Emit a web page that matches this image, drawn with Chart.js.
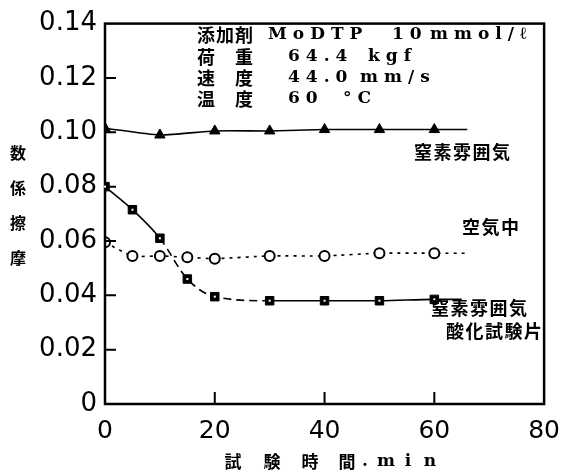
<!DOCTYPE html>
<html>
<head>
<meta charset="utf-8">
<script src="https://cdn.jsdelivr.net/npm/chart.js@4/dist/chart.umd.min.js"></script>
<style>
  html, body { margin: 0; padding: 0; background: #fff; }
  #wrap { width: 572px; height: 473px; }
</style>
</head>
<body>
<div id="wrap"><canvas id="chart" width="572" height="473"></canvas></div>
<script>
// test time (min) and friction coefficient
// last entry of each series is only where the drawn line stops
const timeN2 = [0, 10, 20, 30, 40, 50, 60, 66];
const muN2   = [0.1015, 0.099, 0.1005, 0.1005, 0.101, 0.101, 0.101, 0.101];

const timeAir = [0, 5, 10, 15, 20, 30, 40, 50, 60, 66];
const muAir   = [0.0595, 0.0545, 0.0545, 0.054, 0.0535, 0.0545, 0.0545, 0.0555, 0.0555, 0.0555];

const timeOx = [0, 5, 10, 15, 20, 30, 40, 50, 60, 65];
const muOx   = [0.080, 0.0715, 0.061, 0.046, 0.0395, 0.038, 0.038, 0.038, 0.0385, 0.0385];

const xTicks = [0, 20, 40, 60, 80];
const yTicks = [0, 0.02, 0.04, 0.06, 0.08, 0.10, 0.12, 0.14];

const condLines = [
  ['添加剤', 'MoDTP', '10', 'mmol/ℓ'],
  ['荷　重', '64.4', 'kgf'],
  ['速　度', '44.0', 'mm/s'],
  ['温　度', '60', '°C']
];

const CJK = '"Noto Sans CJK JP", sans-serif';
const LAT = '"DejaVu Serif", "Liberation Serif", serif';

const pts = (xs, ys) => xs.map((x, i) => ({ x, y: ys[i] }));
const lastHidden = (r) => (ctx) => ctx.dataIndex === ctx.dataset.data.length - 1 ? 0 : r;

// frame, inward ticks and all the text annotations
const decor = {
  id: 'decor',
  afterDatasetsDraw(chart) {
    const { ctx, chartArea: a, scales: { x, y } } = chart;
    ctx.save();
    ctx.strokeStyle = '#000';
    ctx.lineWidth = 2.5;
    ctx.strokeRect(a.left, a.top, a.right - a.left, a.bottom - a.top);

    ctx.lineWidth = 2;
    ctx.beginPath();
    yTicks.slice(1, -1).forEach(v => {
      const py = y.getPixelForValue(v);
      ctx.moveTo(a.left, py); ctx.lineTo(a.left + 11, py);
    });
    xTicks.slice(1, -1).forEach(v => {
      const px = x.getPixelForValue(v);
      ctx.moveTo(px, a.bottom); ctx.lineTo(px, a.bottom - 12);
    });
    ctx.stroke();

    // white centre dot of the square markers
    const sq = chart.getDatasetMeta(2);
    ctx.fillStyle = '#fff';
    sq.data.slice(0, -1).forEach(p => ctx.fillRect(p.x - 1, p.y - 1, 2, 2));

    ctx.fillStyle = '#000';
    ctx.textBaseline = 'middle';

    // test conditions
    const rowsY = [35, 57, 78, 99];
    condLines.forEach((row, i) => {
      ctx.font = 'bold 18px ' + CJK;
      ctx.letterSpacing = '1px';
      ctx.textAlign = 'left';
      ctx.fillText(row[0], 197, rowsY[i]);
      ctx.font = 'bold 17px ' + LAT;
      ctx.letterSpacing = '6px';
      if (i === 0) {
        ctx.fillText(row[1], 268, rowsY[i]);
        ctx.fillText(row[2], 392, rowsY[i]);
        ctx.fillText(row[3], 430, rowsY[i]);
      } else {
        ctx.fillText(row[1], 288, rowsY[i]);
        ctx.fillText(row[2], i === 3 ? 343 : (i === 1 ? 368 : 360), rowsY[i]);
      }
    });

    // series labels
    ctx.letterSpacing = '1.5px';
    ctx.font = 'bold 18px ' + CJK;
    ctx.fillText('窒素雰囲気', 414, 152);
    ctx.fillText('空気中', 462, 227);
    ctx.fillText('窒素雰囲気', 431, 308);
    ctx.fillText('酸化試験片', 446, 331);

    // y title, upright characters stacked
    ctx.textAlign = 'center';
    ctx.font = 'bold 16px ' + CJK;
    ctx.letterSpacing = '0px';
    ['数', '係', '擦', '摩'].forEach((c, i) => ctx.fillText(c, 18, 153 + i * 35));

    // x title
    ctx.font = 'bold 17px ' + CJK;
    [['試', 233], ['験', 272], ['時', 310], ['間', 347]].forEach(([c, px]) => ctx.fillText(c, px, 462));
    ctx.font = 'bold 17px ' + LAT;
    [['.', 365], ['m', 386], ['i', 408], ['n', 430]].forEach(([c, px]) => ctx.fillText(c, px, 462));
    ctx.restore();
  }
};

new Chart(document.getElementById('chart'), {
  type: 'line',
  data: {
    datasets: [
      {
        label: '窒素雰囲気',
        data: pts(timeN2, muN2),
        borderColor: '#000',
        borderWidth: 1.6,
        pointStyle: 'triangle',
        pointRadius: lastHidden(6),
        pointBackgroundColor: '#000',
        pointBorderColor: '#000',
        pointBorderWidth: 1,
        tension: 0.2
      },
      {
        label: '空気中',
        data: pts(timeAir, muAir),
        borderColor: '#000',
        borderWidth: 1.6,
        borderDash: [3, 5],
        pointStyle: 'circle',
        pointRadius: lastHidden(5),
        pointBackgroundColor: '#fff',
        pointBorderColor: '#000',
        pointBorderWidth: 2,
        tension: 0.2
      },
      {
        label: '窒素雰囲気 酸化試験片',
        data: pts(timeOx, muOx),
        borderColor: '#000',
        borderWidth: 1.6,
        pointStyle: 'rect',
        pointRadius: lastHidden(6),
        pointBackgroundColor: '#000',
        pointBorderColor: '#000',
        pointBorderWidth: 1,
        cubicInterpolationMode: 'monotone',
        segment: {
          borderDash: c => (c.p0.parsed.x >= 10 && c.p1.parsed.x <= 30) ? [8, 5] : undefined
        }
      }
    ]
  },
  options: {
    responsive: false,
    animation: false,
    layout: { padding: { top: 18, right: 16, left: 0, bottom: 0 } },
    plugins: { legend: { display: false }, tooltip: { enabled: false } },
    scales: {
      x: {
        type: 'linear',
        min: 0, max: 80,
        afterBuildTicks: s => { s.ticks = xTicks.map(v => ({ value: v })); },
        afterFit: s => { s.height = 69; },
        grid: { display: false, drawTicks: false },
        border: { display: false },
        ticks: {
          color: '#000',
          padding: 12,
          font: { family: '"DejaVu Sans", sans-serif', size: 25 },
          callback: v => String(v)
        }
      },
      y: {
        min: 0, max: 0.14,
        afterBuildTicks: s => { s.ticks = yTicks.map(v => ({ value: v })); },
        afterFit: s => { s.width = 105; },
        grid: { display: false, drawTicks: false },
        border: { display: false },
        ticks: {
          color: '#000',
          padding: 8,
          font: { family: '"DejaVu Sans", sans-serif', size: 26 },
          callback: v => v === 0 ? '0' : v.toFixed(2)
        }
      }
    }
  },
  plugins: [decor]
});
</script>
</body>
</html>
